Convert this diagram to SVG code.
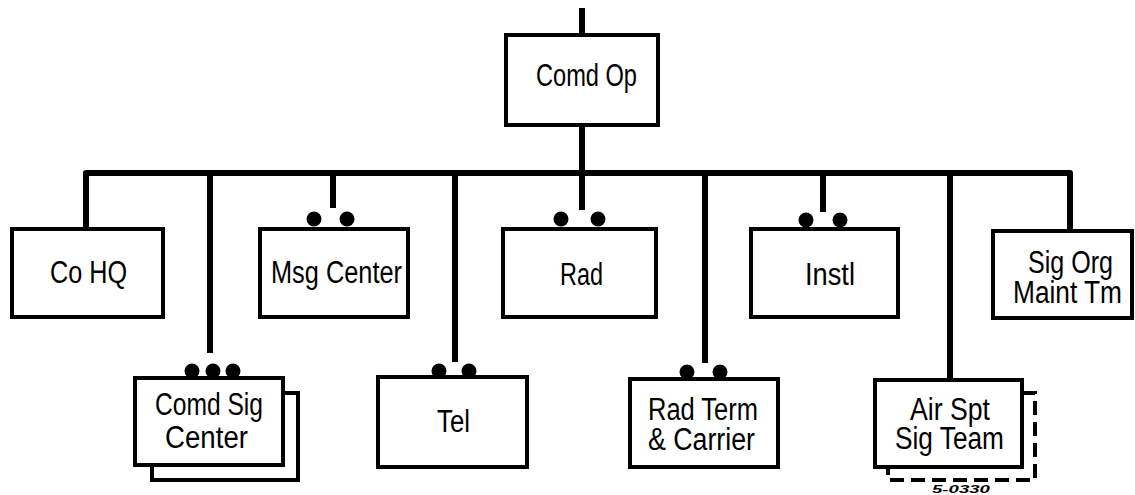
<svg xmlns="http://www.w3.org/2000/svg" width="1135" height="495" viewBox="0 0 1135 495">
<style>
.box{fill:#fff;stroke:#000;stroke-width:4}
.ln{fill:none;stroke:#000;stroke-width:6;stroke-linejoin:round}
.dot{fill:#000}
.t{font-family:"Liberation Sans",Arial,sans-serif;font-size:31px;fill:#000}
.back{fill:none;stroke:#000;stroke-width:4}
.dash{fill:none;stroke:#000;stroke-width:4;stroke-dasharray:14 7}
.code{font-family:"Liberation Sans",Arial,sans-serif;font-size:11px;font-weight:bold;font-style:italic;fill:#000}
</style>
<rect width="1135" height="495" fill="#fff"/>
<g id="connectors">
<path class="ln" d="M582,8 V35"/>
<path class="ln" d="M582,125 V210"/>
<path class="ln" d="M86,229 V173 H1070 V231"/>
<path class="ln" d="M210,173 V353"/>
<path class="ln" d="M333,173 V208"/>
<path class="ln" d="M455,173 V362"/>
<path class="ln" d="M705,173 V363"/>
<path class="ln" d="M823,173 V212"/>
<path class="ln" d="M950,173 V380"/>
</g>
<g id="comd-op">
<rect class="box" x="506" y="35" width="152" height="90"/>
<text class="t" x="536" y="86" textLength="101" lengthAdjust="spacingAndGlyphs">Comd Op</text>
</g>
<g id="co-hq">
<rect class="box" x="12" y="229" width="151" height="88"/>
<text class="t" x="50" y="283" textLength="77" lengthAdjust="spacingAndGlyphs">Co HQ</text>
</g>
<g id="msg-center">
<circle class="dot" cx="314" cy="219" r="7.5"/>
<circle class="dot" cx="347" cy="219" r="7.5"/>
<rect class="box" x="260" y="229" width="148" height="88"/>
<text class="t" x="271" y="283" textLength="131" lengthAdjust="spacingAndGlyphs">Msg Center</text>
</g>
<g id="rad">
<circle class="dot" cx="561" cy="219" r="7.5"/>
<circle class="dot" cx="598" cy="219" r="7.5"/>
<rect class="box" x="503" y="229" width="153" height="88"/>
<text class="t" x="560" y="285" textLength="43" lengthAdjust="spacingAndGlyphs">Rad</text>
</g>
<g id="instl">
<circle class="dot" cx="806" cy="220" r="7.5"/>
<circle class="dot" cx="840" cy="220" r="7.5"/>
<rect class="box" x="751" y="229" width="147" height="88"/>
<text class="t" x="805" y="285" textLength="50" lengthAdjust="spacingAndGlyphs">Instl</text>
</g>
<g id="sig-org-maint-tm">
<rect class="box" x="993" y="231" width="139" height="87"/>
<text class="t" x="1028" y="273" textLength="85" lengthAdjust="spacingAndGlyphs">Sig Org</text>
<text class="t" x="1013" y="303" textLength="109" lengthAdjust="spacingAndGlyphs">Maint Tm</text>
</g>
<g id="comd-sig-center">
<path class="back" d="M283,393 H298 V480 H152 V465"/>
<circle class="dot" cx="192" cy="371" r="7.5"/>
<circle class="dot" cx="213" cy="371" r="7.5"/>
<circle class="dot" cx="233" cy="371" r="7.5"/>
<rect class="box" x="135" y="378" width="148" height="87"/>
<text class="t" x="155" y="415" textLength="108" lengthAdjust="spacingAndGlyphs">Comd Sig</text>
<text class="t" x="165" y="448" textLength="83" lengthAdjust="spacingAndGlyphs">Center</text>
</g>
<g id="tel">
<circle class="dot" cx="439" cy="371" r="7.5"/>
<circle class="dot" cx="469" cy="371" r="7.5"/>
<rect class="box" x="378" y="377" width="149" height="90"/>
<text class="t" x="437" y="432" textLength="33" lengthAdjust="spacingAndGlyphs">Tel</text>
</g>
<g id="rad-term-carrier">
<circle class="dot" cx="687" cy="372" r="7.5"/>
<circle class="dot" cx="720" cy="372" r="7.5"/>
<rect class="box" x="630" y="379" width="148" height="88"/>
<text class="t" x="648" y="420" textLength="110" lengthAdjust="spacingAndGlyphs">Rad Term</text>
<text class="t" x="648" y="450" textLength="107" lengthAdjust="spacingAndGlyphs">&amp; Carrier</text>
</g>
<g id="air-spt-sig-team">
<path class="dash" d="M1022,393 H1035 V480 H888 V467"/>
<rect class="box" x="875" y="380" width="147" height="87"/>
<text class="t" x="910" y="420" textLength="80" lengthAdjust="spacingAndGlyphs">Air Spt</text>
<text class="t" x="895" y="449" textLength="109" lengthAdjust="spacingAndGlyphs">Sig Team</text>
</g>
<text class="code" x="932" y="493" textLength="58" lengthAdjust="spacingAndGlyphs">5-0330</text>
</svg>
